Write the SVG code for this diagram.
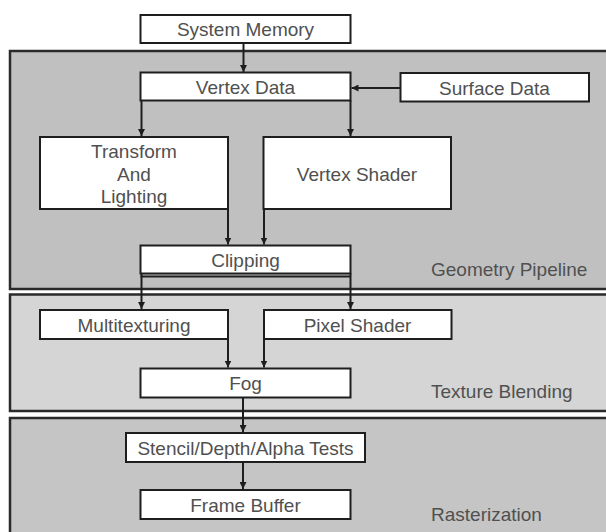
<svg xmlns="http://www.w3.org/2000/svg" width="606" height="532" viewBox="0 0 606 532">
<style>
.panel{stroke:#2a2a2a;stroke-width:2.5}
.box{fill:#fff;stroke:#1e1e1e;stroke-width:2}
.t{font-family:"Liberation Sans",Arial,sans-serif;font-size:19px;fill:#505050;text-anchor:middle}
.lbl{font-family:"Liberation Sans",Arial,sans-serif;font-size:19px;fill:#505050}
.c{stroke:#1e1e1e;stroke-width:2;fill:none;marker-end:url(#ah)}
</style>
<defs>
<marker id="ah" viewBox="0 0 10 10" refX="10" refY="5" markerWidth="7" markerHeight="7" markerUnits="userSpaceOnUse" orient="auto">
<path d="M0,0 L10,5 L0,10 z" fill="#1e1e1e"/>
</marker>
</defs>
<rect width="606" height="532" fill="#fff"/>
<g id="panels">
<rect id="geometry-panel" class="panel" x="10" y="51" width="610" height="238" fill="#c0c0c0"/>
<rect id="texture-panel" class="panel" x="10" y="294.5" width="610" height="116.5" fill="#d5d5d5"/>
<rect id="raster-panel" class="panel" x="10" y="418" width="610" height="130" fill="#c5c5c5"/>
<text class="lbl" x="431" y="275.5">Geometry Pipeline</text>
<text class="lbl" x="431" y="397.5">Texture Blending</text>
<text class="lbl" x="431" y="520.5">Rasterization</text>
</g>
<g id="system-memory"><rect class="box" x="140.5" y="15" width="210" height="28"/><text class="t" x="245.5" y="36">System Memory</text></g>
<g id="vertex-data"><rect class="box" x="140.5" y="72.5" width="210" height="28"/><text class="t" x="245.5" y="93.5">Vertex Data</text></g>
<g id="surface-data"><rect class="box" x="400.5" y="73" width="188.5" height="28.5"/><text class="t" x="494.5" y="94.5">Surface Data</text></g>
<g id="transform-lighting"><rect class="box" x="40" y="137" width="188" height="72"/><text class="t" x="134" y="157.5">Transform</text><text class="t" x="134" y="180.5">And</text><text class="t" x="134" y="202.5">Lighting</text></g>
<g id="vertex-shader"><rect class="box" x="263.5" y="137" width="187.5" height="72"/><text class="t" x="357" y="180.5">Vertex Shader</text></g>
<g id="clipping"><rect class="box" x="140.5" y="245.5" width="210" height="28"/><line x1="140.5" y1="276.5" x2="350.5" y2="276.5" stroke="#1e1e1e" stroke-width="2"/><text class="t" x="245.5" y="266.5">Clipping</text></g>
<g id="multitexturing"><rect class="box" x="40" y="310" width="188" height="29"/><text class="t" x="134" y="331.5">Multitexturing</text></g>
<g id="pixel-shader"><rect class="box" x="264" y="310" width="187.5" height="29"/><text class="t" x="357.5" y="331.5">Pixel Shader</text></g>
<g id="fog"><rect class="box" x="140.5" y="368.5" width="210" height="29"/><text class="t" x="245.5" y="390">Fog</text></g>
<g id="stencil-depth-alpha"><rect class="box" x="126" y="433" width="239" height="29"/><text class="t" x="245.5" y="454.5">Stencil/Depth/Alpha Tests</text></g>
<g id="frame-buffer"><rect class="box" x="140.5" y="490" width="210" height="29"/><text class="t" x="245.5" y="511.5">Frame Buffer</text></g>
<g id="connectors">
<line class="c" x1="243.5" y1="43" x2="243.5" y2="72"/>
<line class="c" x1="400.5" y1="88" x2="351.5" y2="88"/>
<line class="c" x1="141.5" y1="100.5" x2="141.5" y2="136"/>
<line class="c" x1="350.5" y1="100.5" x2="350.5" y2="136"/>
<line class="c" x1="228" y1="209" x2="228" y2="244.5"/>
<line class="c" x1="264" y1="209" x2="264" y2="244.5"/>
<line class="c" x1="141.5" y1="273.5" x2="141.5" y2="309"/>
<line class="c" x1="350.5" y1="273.5" x2="350.5" y2="309"/>
<line class="c" x1="228" y1="339" x2="228" y2="367.5"/>
<line class="c" x1="264" y1="339" x2="264" y2="367.5"/>
<line class="c" x1="243" y1="397.5" x2="243" y2="432"/>
<line class="c" x1="243" y1="462" x2="243" y2="489"/>
</g>
</svg>
